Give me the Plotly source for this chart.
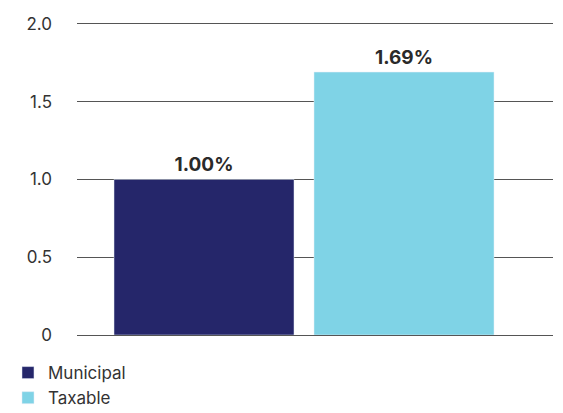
import plotly.graph_objects as go

categories = ["Municipal", "Taxable"]
values = [1.00, 1.69]
labels = ["1.00%", "1.69%"]
colors = ["#25266a", "#7fd3e6"]
tick_vals = [0, 0.5, 1.0, 1.5, 2.0]
tick_text = ["0", "0.5", "1.0", "1.5", "2.0"]

fig = go.Figure()
for c, v, l, col in zip(categories, values, labels, colors):
    fig.add_trace(go.Bar(
        x=[c], y=[v], name=c, marker_color=col, width=0.9,
        text=[l], textposition="outside",
        textfont=dict(family="Inter", size=19, color="#2a2a2a", weight="bold"),
        cliponaxis=False,
    ))

fig.update_layout(
    width=563, height=413,
    margin=dict(l=77, r=10, t=22, b=78, autoexpand=False),
    plot_bgcolor="white", paper_bgcolor="white",
    barmode="overlay",
    font=dict(family="Inter", size=17, color="#333333"),
    showlegend=True,
    legend=dict(x=-0.145, y=-0.064, xanchor="left", yanchor="top",
                font=dict(size=17, color="#333333"), tracegroupgap=0,
                bgcolor="rgba(0,0,0,0)"),
    xaxis=dict(showticklabels=False, showgrid=False, zeroline=False,
               range=[-0.635, 1.745], showline=False),
    yaxis=dict(range=[0, 2.012], tickvals=tick_vals, ticktext=tick_text,
               showgrid=True, gridcolor="#555555", gridwidth=1,
               zeroline=True, zerolinecolor="#555555", zerolinewidth=1,
               ticklabelstandoff=24, tickfont=dict(size=17, color="#333333")),
)
fig.write_html("out.html")
